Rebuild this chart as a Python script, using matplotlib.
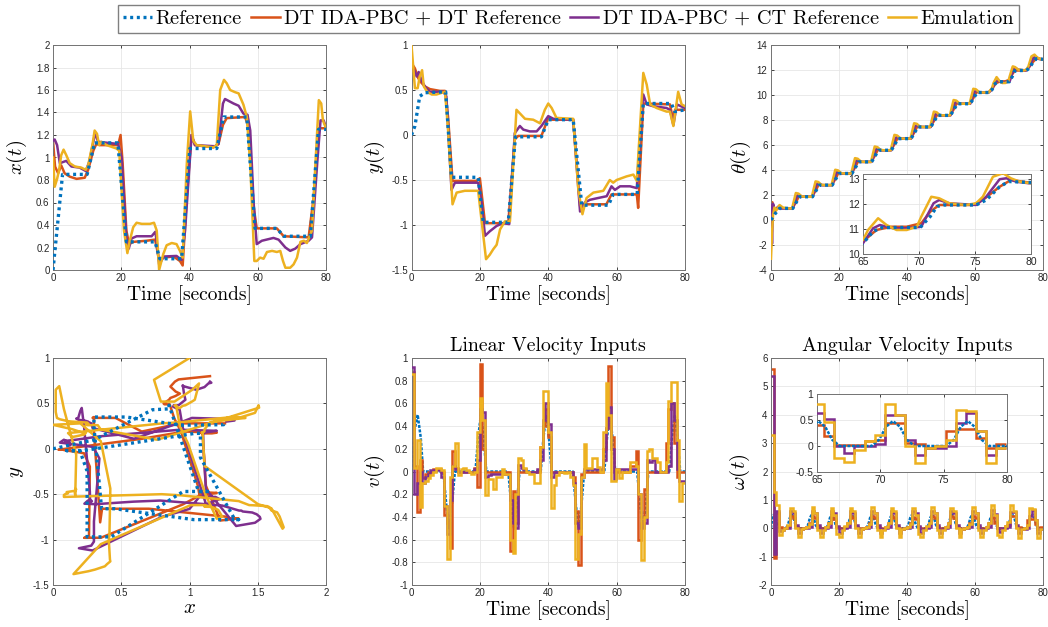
import numpy as np
import matplotlib
matplotlib.use("Agg")
import matplotlib.pyplot as plt
from matplotlib.ticker import FuncFormatter, MultipleLocator

plt.rcParams['mathtext.fontset'] = 'cm'
plt.rcParams['font.family'] = ['Liberation Sans', 'DejaVu Sans']

BLUE, ORANGE, PURPLE, YELLOW = '#0072BD', '#D95319', '#7E2F8E', '#EDB120'
SERIF = 'cmr10'

LEGEND_LABELS = ['Reference', 'DT IDA-PBC + DT Reference',
                 'DT IDA-PBC + CT Reference', 'Emulation']

# ---------------- x(t) ----------------
X_REF_T = [0, 2.8, 10, 12.2, 19, 21.5, 29.9, 31.3, 37.7, 40.1, 48, 50, 56.8, 59.2, 65.6, 67.6, 75.4, 77.8, 80]
X_REF = [0, 0.85, 0.85, 1.13, 1.13, 0.25, 0.25, 0.1, 0.1, 1.08, 1.08, 1.36, 1.36, 0.37, 0.37, 0.3, 0.3, 1.25, 1.25]

X_ORANGE_T = [0, 0.6, 1.5, 2.4, 3.4, 4.9, 6.9, 9.3, 10.3, 11.8, 12.7, 13.7, 19.1, 19.8, 20.4, 21.5, 22.3, 23.5,
              27.4, 29.9, 30.4, 31.1, 32.3, 35.3, 37.2, 38.0, 39.2, 40.6, 41.6, 47.0, 48.5, 49.8, 50.9, 56.3,
              57.3, 58.8, 59.7, 65.6, 67.6, 74.9, 76.4, 77.9, 80]
X_ORANGE = [1.15, 0.92, 0.86, 0.93, 0.86, 0.83, 0.81, 0.82, 0.89, 1.06, 1.12, 1.11, 1.11, 1.20, 0.95, 0.35, 0.23,
            0.25, 0.26, 0.27, 0.20, 0.08, 0.11, 0.12, 0.08, 0.04, 0.65, 1.20, 1.11, 1.09, 1.12, 1.29, 1.35, 1.36,
            1.27, 0.56, 0.37, 0.37, 0.30, 0.29, 0.65, 1.26, 1.26]

X_PURPLE_T = [0, 0.5, 1.2, 2.0, 3.9, 5.4, 7.8, 9.6, 10.6, 11.9, 12.4, 13.2, 19.1, 20.1, 21.5, 22.2, 23.0, 24.5,
              28.9, 30.0, 30.6, 31.1, 32.5, 36.2, 37.7, 38.7, 40.6, 41.6, 47.5, 48.5, 49.8, 50.4, 52.9, 54.4,
              55.8, 57.0, 57.8, 58.8, 59.7, 61.2, 64.6, 66.1, 68.1, 69.5, 71.0, 72.5, 74.9, 75.9, 77.4, 78.4,
              79.3, 80]
X_PURPLE = [1.15, 1.16, 1.11, 0.95, 0.97, 0.92, 0.91, 0.88, 0.96, 1.15, 1.22, 1.14, 1.12, 1.00, 0.29, 0.19, 0.28,
            0.30, 0.30, 0.34, 0.20, 0.05, 0.12, 0.125, 0.09, 0.35, 1.20, 1.11, 1.10, 1.12, 1.48, 1.52, 1.48,
            1.46, 1.39, 1.38, 1.24, 0.59, 0.23, 0.26, 0.285, 0.27, 0.20, 0.17, 0.19, 0.23, 0.26, 0.29, 0.94,
            1.33, 1.33, 1.27]

X_YELLOW_T = [0, 0.5, 1.2, 1.8, 2.4, 3.1, 3.9, 4.9, 6.4, 8.3, 9.6, 10.3, 11.6, 12.2, 12.9, 13.5, 14.2, 15.7,
              18.6, 19.4, 20.8, 21.8, 22.5, 23.5, 24.5, 26.0, 28.4, 29.6, 30.4, 31.1, 32.3, 33.3, 34.8, 36.2,
              37.2, 38.0, 39.2, 40.2, 41.1, 42.1, 47.0, 48.0, 49.0, 50.1, 50.9, 51.9, 53.4, 54.4, 55.8, 56.8,
              57.8, 59.0, 59.7, 60.7, 61.7, 62.7, 64.2, 65.6, 66.6, 67.4, 68.1, 69.5, 70.5, 71.5, 72.5, 73.5,
              74.4, 75.9, 76.9, 77.9, 78.6, 79.1, 80]
X_YELLOW = [1.0, 0.74, 0.81, 0.89, 1.02, 1.07, 1.02, 0.95, 0.92, 0.91, 0.89, 0.93, 1.12, 1.24, 1.21, 1.11, 1.14,
            1.11, 1.08, 1.06, 0.35, 0.15, 0.26, 0.38, 0.42, 0.41, 0.41, 0.42, 0.35, 0.0, 0.14, 0.22, 0.24, 0.23,
            0.17, 0.11, 0.94, 1.41, 1.15, 1.11, 1.09, 1.11, 1.6, 1.69, 1.66, 1.6, 1.58, 1.57, 1.47, 1.36, 0.94,
            0.08, 0.08, 0.11, 0.1, 0.16, 0.17, 0.16, 0.17, 0.08, 0.02, 0.02, 0.05, 0.11, 0.25, 0.26, 0.24, 0.35,
            0.94, 1.51, 1.48, 1.33, 1.26]

# ---------------- y(t) ----------------
Y_REF_T = [0, 1.0, 2.4, 4.0, 10.0, 11.7, 19.5, 21.0, 28.3, 30.4, 38.0, 40.0, 47.3, 49.8, 57.6, 59.0, 66.0, 67.8,
           76.0, 77.0, 80]
Y_REF = [0, 0.1, 0.43, 0.47, 0.48, -0.47, -0.47, -0.97, -0.97, -0.02, -0.02, 0.17, 0.17, -0.78, -0.78, -0.66,
         -0.66, 0.35, 0.35, 0.26, 0.28]

Y_ORANGE_T = [0, 1, 2, 2.9, 3.9, 5.4, 8.3, 9.8, 10.7, 12, 19, 20, 21.5, 28.3, 30.2, 31.2, 38, 40, 41, 47.3, 49.3,
              50.2, 57, 58.5, 65.9, 66.3, 67.8, 75.6, 76.4, 77.1, 80]
Y_ORANGE = [0.8, 0.74, 0.63, 0.58, 0.54, 0.51, 0.49, 0.49, 0.2, -0.51, -0.51, -0.48, -0.98, -0.98, -0.05, -0.01,
            -0.01, 0.19, 0.17, 0.17, -0.79, -0.77, -0.77, -0.66, -0.66, -0.81, 0.35, 0.34, 0.19, 0.28, 0.28]

Y_PURPLE_T = [0, 0.8, 1.5, 2.1, 2.9, 3.9, 5.4, 9.3, 10.2, 11.7, 12.7, 19.5, 20.5, 21.5, 22.9, 24.9, 26.8, 28.6,
              30.2, 31.7, 32.7, 34.6, 36.6, 38, 40, 41.5, 47.3, 49.3, 50.7, 52.2, 54.6, 57.1, 58.5, 59.5, 61,
              63.9, 65.9, 67.3, 67.8, 68.8, 70.7, 74.6, 75.6, 76.6, 77.6, 80]
Y_PURPLE = [0.74, 0.72, 0.65, 0.70, 0.61, 0.54, 0.48, 0.48, 0.43, -0.61, -0.53, -0.53, -0.75, -1.12, -1.07,
            -1.01, -0.98, -0.99, 0.02, 0.10, 0.06, 0.04, 0.04, 0.10, 0.21, 0.18, 0.17, -0.85, -0.75, -0.72,
            -0.70, -0.68, -0.57, -0.61, -0.57, -0.57, -0.59, 0.24, 0.45, 0.34, 0.32, 0.30, 0.28, 0.11, 0.34, 0.30]

Y_YELLOW_T = [0, 0.5, 1, 1.8, 2.4, 3.1, 3.6, 4.6, 5.9, 7.3, 9.8, 10.7, 12, 13.2, 15.6, 19.5, 20.8, 21.8, 22.9,
              23.9, 24.9, 25.9, 27.3, 28.8, 30.7, 31.7, 33.2, 35.6, 37.6, 39, 40, 41, 42.4, 47.3, 48.8, 50, 51.2,
              53.2, 56.1, 58, 59, 60, 62.9, 64.9, 65.9, 66.8, 67.8, 68.8, 69.8, 71.7, 74.6, 75.6, 76.6, 78, 79, 80]
Y_YELLOW = [1.0, 0.76, 0.52, 0.52, 0.65, 0.72, 0.54, 0.48, 0.45, 0.45, 0.48, 0.06, -0.77, -0.64, -0.62, -0.62,
            -1.05, -1.38, -1.33, -1.27, -1.22, -1.05, -0.96, -0.96, 0.28, 0.24, 0.18, 0.17, 0.13, 0.28, 0.35,
            0.30, 0.19, 0.18, -0.61, -0.88, -0.70, -0.64, -0.62, -0.50, -0.53, -0.50, -0.46, -0.44, -0.51, 0.06,
            0.69, 0.56, 0.34, 0.30, 0.26, 0.26, 0.10, 0.48, 0.34, 0.32]

# ---------------- theta(t) ----------------
TH_REF_T = [0, 1.2, 2.5, 6.4, 7.4, 8.4, 12.2, 13.2, 14.2, 18.0, 19.0, 20.0, 23.8, 24.8, 25.8, 29.6, 30.6, 31.6,
            35.4, 36.4, 37.4, 41.2, 42.2, 43.2, 47.0, 48.0, 49.0, 52.8, 53.8, 54.8, 58.6, 59.6, 60.6, 64.2, 65.0,
            65.9, 66.7, 70.1, 71.0, 71.6, 72.2, 75.1, 76.0, 77.2, 78.0, 80]
TH_REF = [0, 0.5, 0.93, 0.93, 1.40, 1.86, 1.86, 2.33, 2.79, 2.79, 3.26, 3.72, 3.72, 4.19, 4.65, 4.65, 5.12, 5.58,
          5.58, 6.05, 6.51, 6.51, 6.98, 7.44, 7.44, 7.91, 8.37, 8.37, 8.84, 9.30, 9.30, 9.75, 10.20, 10.20, 10.43,
          10.90, 11.06, 11.06, 11.50, 11.90, 11.96, 11.96, 12.16, 12.69, 12.90, 12.86]

TH_ORANGE_T = [0, 0.4, 0.9, 1.5, 2.5, 6.2, 7.3, 8.2, 9.4, 12.0, 13.1, 14.0, 15.2, 17.8, 18.9, 19.8, 21.0, 23.6,
               24.7, 25.6, 26.8, 29.4, 30.5, 31.4, 32.6, 35.2, 36.3, 37.2, 38.4, 41.0, 42.1, 43.0, 44.2, 46.8,
               47.9, 48.8, 50.0, 52.6, 53.7, 54.6, 55.8, 58.4, 59.5, 60.4, 61.6, 64.0, 65.0, 66.2, 67.5, 68.9,
               70.2, 71.0, 71.8, 73.0, 74.8, 75.7, 77.2, 78.2, 79.8, 80]
TH_ORANGE = [1.30, 1.42, 0.60, 0.90, 0.93, 0.93, 1.40, 1.89, 1.86, 1.86, 2.33, 2.82, 2.79, 2.79, 3.26, 3.75, 3.72,
             3.72, 4.19, 4.68, 4.65, 4.65, 5.12, 5.61, 5.58, 5.58, 6.05, 6.54, 6.51, 6.51, 6.98, 7.47, 7.44, 7.44,
             7.91, 8.40, 8.37, 8.37, 8.84, 9.33, 9.30, 9.30, 9.75, 10.23, 10.20, 10.20, 10.50, 10.96, 11.09,
             11.09, 11.23, 11.69, 11.96, 11.96, 11.96, 12.16, 12.69, 12.96, 12.86, 12.86]

TH_PURPLE_T = [0, 0.3, 0.6, 1.2, 2.0, 3.0, 6.4, 7.6, 8.1, 9.2, 12.2, 13.4, 13.9, 15.0, 18.0, 19.2, 19.7, 20.8,
               23.8, 25.0, 25.5, 26.6, 29.6, 30.8, 31.3, 32.4, 35.4, 36.6, 37.1, 38.2, 41.2, 42.4, 42.9, 44.0,
               47.0, 48.2, 48.7, 49.8, 52.8, 54.0, 54.5, 55.6, 58.6, 59.8, 60.3, 61.4, 64.0, 65.0, 65.9, 66.5,
               67.7, 68.9, 70.2, 71.3, 71.8, 72.7, 75.1, 76.0, 77.2, 77.8, 78.7, 79.8, 80]
TH_PURPLE = [1.20, -1.90, 1.30, 0.70, 1.05, 0.93, 0.93, 1.91, 2.01, 1.86, 1.86, 2.84, 2.94, 2.79, 2.79, 3.77,
             3.87, 3.72, 3.72, 4.70, 4.80, 4.65, 4.65, 5.63, 5.73, 5.58, 5.58, 6.56, 6.66, 6.51, 6.51, 7.49, 7.59,
             7.44, 7.44, 8.42, 8.52, 8.37, 8.37, 9.35, 9.45, 9.30, 9.30, 10.25, 10.35, 10.20, 10.20, 10.43, 11.03,
             11.16, 11.03, 11.03, 11.09, 12.03, 12.16, 12.03, 11.96, 12.29, 12.99, 13.03, 12.89, 12.83, 12.83]

TH_YELLOW_T = [0, 0.3, 0.6, 1.0, 1.5, 2.5, 3.5, 5.0, 6.2, 7.3, 8.1, 9.0, 10.0, 12.0, 13.1, 13.9, 14.8, 15.8,
               17.8, 18.9, 19.7, 20.6, 21.6, 23.6, 24.7, 25.5, 26.4, 27.4, 29.4, 30.5, 31.3, 32.2, 33.2, 35.2,
               36.3, 37.1, 38.0, 39.0, 41.0, 42.1, 42.9, 43.8, 44.8, 46.8, 47.9, 48.7, 49.6, 50.6, 52.6, 53.7,
               54.5, 55.4, 56.4, 58.4, 59.5, 60.3, 61.2, 62.2, 64.0, 65.0, 65.45, 66.35, 67.1, 68.0, 68.9, 69.8,
               70.2, 71.1, 71.8, 72.7, 74.2, 75.1, 75.7, 76.6, 77.5, 78.2, 79.0, 80]
TH_YELLOW = [-3.1, -1.0, 0.4, 1.0, 0.75, 1.2, 1.0, 0.93, 0.93, 2.16, 2.11, 1.89, 1.86, 1.86, 3.09, 3.04, 2.82,
             2.79, 2.79, 4.02, 3.97, 3.75, 3.72, 3.72, 4.95, 4.90, 4.68, 4.65, 4.65, 5.88, 5.83, 5.61, 5.58, 5.58,
             6.81, 6.76, 6.54, 6.51, 6.51, 7.74, 7.69, 7.47, 7.44, 7.44, 8.67, 8.62, 8.40, 8.37, 8.37, 9.60, 9.55,
             9.33, 9.30, 9.30, 10.50, 10.45, 10.23, 10.20, 10.20, 10.56, 10.96, 11.43, 11.16, 10.96, 10.96,
             11.09, 11.49, 12.29, 12.23, 12.03, 11.96, 12.03, 12.29, 13.09, 13.23, 13.03, 12.89, 12.83]

# ---------------- inputs: sample-and-hold values (sample time 0.8 s) ----------------
SAMPLE_T = 0.8
SAMPLE_T0 = -0.05

V_REF_T = [0, 0.8, 1.8, 2.7, 3.4, 9.3, 10.2, 11.0, 11.8, 12.7, 18.7, 19.5, 20.3, 21.1, 21.9, 28.3, 29.2, 30.0,
           30.8, 31.6, 37.8, 38.6, 39.4, 40.2, 41.0, 47.2, 48.1, 48.9, 49.7, 50.5, 56.4, 57.2, 58.0, 58.8, 59.6,
           66.0, 66.9, 67.7, 68.5, 69.3, 75.4, 76.2, 77.0, 77.8, 78.6, 80]
V_REF = [0, 0.35, 0.5, 0.3, 0, 0, -0.3, -0.5, -0.3, 0, 0, 0.3, 0.5, 0.3, 0, 0, -0.3, -0.5, -0.3, 0, 0, 0.3, 0.5,
         0.3, 0, 0, -0.3, -0.5, -0.3, 0, 0, 0.3, 0.5, 0.3, 0, 0, -0.3, -0.5, -0.3, 0, 0, 0.3, 0.5, 0.3, 0, 0]

V_ORANGE = [0.88, 0.05, -0.36, 0.10, -0.06, -0.02, 0.00, 0.00, 0.02, 0.02,
            0.02, 0.00, -0.38, -0.45, -0.67, 0.18, 0.03, 0.00, 0.00, 0.00,
            0.00, 0.00, 0.00, 0.03, -0.14, 0.95, 0.20, 0.00, 0.00, 0.00,
            0.00, 0.00, 0.00, 0.00, 0.00, 0.00, -0.70, -0.17, -0.45, 0.00,
            0.00, 0.00, 0.00, 0.00, 0.00, 0.00, 0.00, 0.22, 0.40, 0.55,
            0.30, 0.00, 0.00, 0.00, 0.00, 0.00, 0.00, 0.00, 0.00, -0.05,
            -0.35, -0.82, -0.02, 0.00, 0.00, 0.00, 0.00, 0.00, 0.00, 0.00,
            0.20, 0.38, 0.93, 0.30, 0.00, 0.00, 0.00, 0.00, 0.00, 0.00,
            0.05, 0.05, 0.18, -0.60, -0.45, -0.15, 0.00, 0.00, 0.00, 0.00,
            0.00, 0.00, 0.00, 0.25, 0.55, 0.60, 0.25, -0.05, 0.00, 0.00]
V_PURPLE = [0.92, -0.20, -0.10, 0.00, -0.10, -0.05, -0.02, 0.01, 0.01, 0.01,
            0.01, -0.05, -0.30, -0.55, -0.25, 0.05, 0.02, 0.00, 0.00, 0.00,
            0.00, 0.00, 0.00, 0.02, 0.10, 0.55, 0.52, -0.05, -0.03, -0.02,
            -0.02, -0.02, -0.02, -0.02, -0.02, -0.02, -0.25, -0.45, -0.50, 0.06,
            0.03, 0.02, 0.00, 0.00, 0.00, 0.00, 0.02, 0.10, 0.45, 0.60,
            0.42, -0.05, 0.00, 0.00, 0.00, 0.00, 0.00, 0.00, 0.00, -0.10,
            -0.45, -0.50, -0.05, 0.02, 0.02, 0.02, 0.02, 0.02, 0.02, 0.02,
            0.10, 0.38, 0.57, 0.20, -0.07, 0.02, 0.02, 0.02, 0.02, 0.02,
            0.02, 0.02, 0.02, -0.20, -0.50, -0.45, 0.10, 0.08, 0.10, 0.00,
            0.00, 0.00, 0.00, 0.00, 0.05, 0.60, 0.45, 0.02, -0.08, -0.08]
V_YELLOW = [0.86, 0.03, 0.28, -0.31, -0.10, -0.08, -0.06, -0.03, 0.00, 0.03,
            0.03, 0.01, -0.30, -0.77, -0.05, 0.05, 0.25, -0.03, 0.02, 0.03,
            0.01, 0.00, -0.02, 0.00, 0.35, 0.65, 0.45, -0.21, -0.07, -0.07,
            -0.15, -0.05, -0.05, 0.02, -0.02, -0.02, -0.60, -0.72, -0.20, 0.12,
            0.10, 0.03, 0.00, -0.02, -0.02, -0.10, -0.10, 0.22, 0.71, 0.71,
            0.35, -0.32, -0.12, -0.03, 0.00, 0.00, -0.01, 0.00, -0.05, -0.12,
            -0.77, -0.55, -0.05, 0.24, 0.03, 0.03, 0.12, 0.12, 0.04, 0.00,
            0.35, 0.78, 0.50, -0.08, -0.08, 0.02, -0.06, 0.00, 0.00, 0.00,
            0.08, 0.08, 0.05, -0.20, -0.78, -0.40, 0.18, 0.20, 0.12, 0.12,
            0.08, 0.00, 0.00, 0.08, 0.62, 0.79, 0.79, 0.28, -0.26, -0.10]

W_REF_T = [0, 0.3, 0.8, 1.3, 1.9, 2.5,
           4.4, 5.0, 5.55, 6.1, 6.65, 7.2, 7.8,
           10.3, 10.9, 11.45, 12.0, 12.55, 13.1, 13.7,
           16.2, 16.8, 17.35, 17.9, 18.45, 19.0, 19.6,
           22.1, 22.7, 23.25, 23.8, 24.35, 24.9, 25.5,
           28.0, 28.6, 29.15, 29.7, 30.25, 30.8, 31.4,
           33.9, 34.5, 35.05, 35.6, 36.15, 36.7, 37.3,
           39.8, 40.4, 40.95, 41.5, 42.05, 42.6, 43.2,
           45.7, 46.3, 46.85, 47.4, 47.95, 48.5, 49.1,
           51.6, 52.2, 52.75, 53.3, 53.85, 54.4, 55.0,
           57.5, 58.1, 58.65, 59.2, 59.75, 60.3, 60.9,
           63.4, 64.0, 64.55, 65.1, 65.65, 66.2, 66.8,
           69.3, 69.9, 70.45, 71.0, 71.55, 72.1, 72.7,
           75.2, 75.8, 76.35, 76.9, 77.45, 78.0, 78.6, 80]
W_REF = [0, 0.3, 0.48, 0.37, 0.12, 0,
         0, 0.12, 0.37, 0.48, 0.37, 0.12, 0,
         0, 0.12, 0.37, 0.48, 0.37, 0.12, 0,
         0, 0.12, 0.37, 0.48, 0.37, 0.12, 0,
         0, 0.12, 0.37, 0.48, 0.37, 0.12, 0,
         0, 0.12, 0.37, 0.48, 0.37, 0.12, 0,
         0, 0.12, 0.37, 0.48, 0.37, 0.12, 0,
         0, 0.12, 0.37, 0.48, 0.37, 0.12, 0,
         0, 0.12, 0.37, 0.48, 0.37, 0.12, 0,
         0, 0.12, 0.37, 0.48, 0.37, 0.12, 0,
         0, 0.12, 0.37, 0.48, 0.37, 0.12, 0,
         0, 0.12, 0.37, 0.48, 0.37, 0.12, 0,
         0, 0.12, 0.37, 0.48, 0.37, 0.12, 0,
         0, 0.12, 0.37, 0.48, 0.37, 0.12, 0, 0]

W_ORANGE = [5.62, -1.05, 0.55, 0.05, 0.00, 0.00, 0.08,
            0.42, 0.35, 0.05, 0.01, -0.02, 0.00, 0.05, 0.20,
            0.42, 0.35, 0.05, 0.01, 0.00, 0.06, 0.20,
            0.40, 0.33, 0.05, 0.01, 0.00, 0.06, 0.20,
            0.42, 0.35, 0.05, 0.01, -0.02, 0.00, 0.05, 0.20,
            0.42, 0.35, 0.05, 0.01, 0.00, 0.06, 0.20,
            0.42, 0.35, 0.05, 0.01, -0.02, 0.00, 0.05, 0.20,
            0.40, 0.33, 0.05, 0.01, 0.00, 0.06, 0.20,
            0.42, 0.35, 0.05, 0.01, 0.00, 0.06, 0.20,
            0.42, 0.35, 0.05, 0.01, -0.02, 0.00, 0.05, 0.20,
            0.42, 0.35, 0.05, 0.01, 0.00, 0.06, 0.20,
            0.40, 0.19, 0.01, 0.01, 0.01, 0.09, 0.12,
            0.44, 0.44, 0.06, 0.03, -0.03, 0.00, 0.28,
            0.33, 0.33, 0.15, -0.04, 0.03]
W_PURPLE = [5.35, -0.90, 0.60, -0.10, -0.05, 0.00, 0.02,
            0.60, 0.55, 0.10, -0.15, -0.03, 0.00, 0.00, 0.03,
            0.60, 0.55, 0.10, -0.15, -0.03, 0.00, 0.03,
            0.62, 0.52, 0.08, -0.15, -0.03, 0.00, 0.03,
            0.60, 0.55, 0.10, -0.15, -0.03, 0.00, 0.00, 0.03,
            0.60, 0.55, 0.10, -0.15, -0.03, 0.00, 0.03,
            0.60, 0.55, 0.10, -0.15, -0.03, 0.00, 0.00, 0.03,
            0.62, 0.52, 0.08, -0.15, -0.03, 0.00, 0.03,
            0.60, 0.55, 0.10, -0.15, -0.03, 0.00, 0.03,
            0.60, 0.55, 0.10, -0.15, -0.03, 0.00, 0.00, 0.03,
            0.60, 0.55, 0.10, -0.15, -0.03, 0.00, 0.03,
            0.63, 0.51, 0.00, -0.13, 0.00, 0.00, 0.03,
            0.59, 0.59, 0.12, -0.17, -0.04, -0.03, 0.00,
            0.44, 0.63, 0.28, -0.17, -0.04]
W_YELLOW = [3.30, 1.26, 0.82, -0.25, -0.05, 0.00, 0.10,
            0.72, 0.62, 0.00, -0.30, -0.04, 0.00, 0.05, 0.15,
            0.75, 0.55, -0.05, -0.30, -0.05, 0.05, 0.18,
            0.72, 0.45, -0.20, -0.30, -0.06, 0.08, 0.20,
            0.72, 0.62, 0.00, -0.30, -0.04, 0.00, 0.05, 0.15,
            0.75, 0.55, -0.05, -0.30, -0.05, 0.05, 0.18,
            0.72, 0.62, 0.00, -0.30, -0.04, 0.00, 0.05, 0.15,
            0.72, 0.45, -0.20, -0.30, -0.06, 0.08, 0.20,
            0.75, 0.55, -0.05, -0.30, -0.05, 0.05, 0.18,
            0.72, 0.62, 0.00, -0.30, -0.04, 0.00, 0.05, 0.15,
            0.75, 0.55, -0.05, -0.30, -0.05, 0.05, 0.20,
            0.81, 0.47, -0.23, -0.30, -0.07, 0.09, 0.22,
            0.81, 0.60, 0.00, -0.33, -0.04, 0.00, 0.12,
            0.70, 0.67, 0.28, -0.33, -0.04]


def px_rect(left, top, right, bottom, W=1048, H=627):
    return [left / W, 1 - bottom / H, (right - left) / W, (bottom - top) / H]


def num_fmt(v, _):
    return '%g' % (round(v, 6) + 0.0)


def style(ax, xlim, ylim, xstep, ystep, size=7):
    ax.set_xlim(*xlim)
    ax.set_ylim(*ylim)
    ax.xaxis.set_major_locator(MultipleLocator(xstep))
    ax.yaxis.set_major_locator(MultipleLocator(ystep))
    ax.xaxis.set_major_formatter(FuncFormatter(num_fmt))
    ax.yaxis.set_major_formatter(FuncFormatter(num_fmt))
    ax.tick_params(direction='in', length=2.5, width=0.6, top=True, right=True,
                   labelsize=size, colors='0.15', pad=2.5)
    ax.grid(True, color='0.9', lw=0.6)
    ax.set_axisbelow(True)
    for s in ax.spines.values():
        s.set_color('0.45')
        s.set_linewidth(0.7)


LW = 1.8
REF_STYLE = dict(color=BLUE, lw=2.4, ls=(0, (0.9, 1.1)), zorder=5)
REF_INPUT_STYLE = dict(color=BLUE, lw=1.8, ls=(0, (1.2, 0.6)), zorder=1)


def time_series(ax, ref, orange, purple, yellow):
    ax.plot(*orange, color=ORANGE, lw=LW, zorder=2)
    ax.plot(*purple, color=PURPLE, lw=LW, zorder=3)
    ax.plot(*yellow, color=YELLOW, lw=LW, zorder=4)
    ax.plot(*ref, **REF_STYLE)


def stair_series(ax, ref, orange, purple, yellow, ref_z=1):
    edges = SAMPLE_T0 + SAMPLE_T * np.arange(len(orange) + 1)
    ax.plot(*ref, **dict(REF_INPUT_STYLE, zorder=ref_z))
    ax.stairs(orange, edges, color=ORANGE, lw=LW, baseline=None, zorder=2)
    ax.stairs(purple, edges, color=PURPLE, lw=LW, baseline=None, zorder=3)
    ax.stairs(yellow, edges, color=YELLOW, lw=LW, baseline=None, zorder=4)


def xlabel_time(ax):
    ax.set_xlabel('Time [seconds]', family=SERIF, fontsize=14, labelpad=1)


fig = plt.figure(figsize=(10.48, 6.27), dpi=100)

# x(t)
ax1 = fig.add_axes(px_rect(53, 45, 326, 270))
time_series(ax1, (X_REF_T, X_REF), (X_ORANGE_T, X_ORANGE), (X_PURPLE_T, X_PURPLE), (X_YELLOW_T, X_YELLOW))
style(ax1, (0, 80), (0, 2), 20, 0.2)
xlabel_time(ax1)
ax1.set_ylabel(r'$x(t)$', fontsize=15, labelpad=5)

# y(t)
ax2 = fig.add_axes(px_rect(411.5, 45, 685, 270))
time_series(ax2, (Y_REF_T, Y_REF), (Y_ORANGE_T, Y_ORANGE), (Y_PURPLE_T, Y_PURPLE), (Y_YELLOW_T, Y_YELLOW))
style(ax2, (0, 80), (-1.5, 1), 20, 0.5)
xlabel_time(ax2)
ax2.set_ylabel(r'$y(t)$', fontsize=15, labelpad=3)

# theta(t)
ax3 = fig.add_axes(px_rect(771, 45, 1043, 270))
time_series(ax3, (TH_REF_T, TH_REF), (TH_ORANGE_T, TH_ORANGE), (TH_PURPLE_T, TH_PURPLE),
            (TH_YELLOW_T, TH_YELLOW))
style(ax3, (0, 80), (-4, 14), 20, 2)
xlabel_time(ax3)
ax3.set_ylabel(r'$\theta(t)$', fontsize=15, labelpad=3)

ax3i = fig.add_axes(px_rect(863, 174, 1031, 254))
ax3i.set_facecolor('white')
time_series(ax3i, (TH_REF_T, TH_REF), (TH_ORANGE_T, TH_ORANGE), (TH_PURPLE_T, TH_PURPLE),
            (TH_YELLOW_T, TH_YELLOW))
style(ax3i, (65, 80), (10, 13.2), 5, 1, size=7.5)
ax3i.set_zorder(10)

# x-y plane
ax4 = fig.add_axes(px_rect(53, 358, 326, 585))
for (tx, xv), (ty, yv), col, z in [((X_ORANGE_T, X_ORANGE), (Y_ORANGE_T, Y_ORANGE), ORANGE, 2),
                                   ((X_PURPLE_T, X_PURPLE), (Y_PURPLE_T, Y_PURPLE), PURPLE, 3),
                                   ((X_YELLOW_T, X_YELLOW), (Y_YELLOW_T, Y_YELLOW), YELLOW, 4)]:
    tt = np.union1d(tx, ty)
    ax4.plot(np.interp(tt, tx, xv), np.interp(tt, ty, yv), color=col, lw=LW, zorder=z)
tt = np.union1d(X_REF_T, Y_REF_T)
ax4.plot(np.interp(tt, X_REF_T, X_REF), np.interp(tt, Y_REF_T, Y_REF), **REF_STYLE)
style(ax4, (0, 2), (-1.5, 1), 0.5, 0.5)
ax4.set_xlabel(r'$x$', fontsize=15, labelpad=0)
ax4.set_ylabel(r'$y$', fontsize=15, labelpad=5)

# linear velocity
ax5 = fig.add_axes(px_rect(411.5, 358, 685, 585))
stair_series(ax5, (V_REF_T, V_REF), V_ORANGE, V_PURPLE, V_YELLOW)
style(ax5, (0, 80), (-1, 1), 20, 0.2)
xlabel_time(ax5)
ax5.set_ylabel(r'$v(t)$', fontsize=15, labelpad=3)
ax5.set_title('Linear Velocity Inputs', family=SERIF, fontsize=14.3, pad=5)

# angular velocity
ax6 = fig.add_axes(px_rect(771, 358, 1043, 585))
stair_series(ax6, (W_REF_T, W_REF), W_ORANGE, W_PURPLE, W_YELLOW)
style(ax6, (0, 80), (-2, 6), 20, 1)
xlabel_time(ax6)
ax6.set_ylabel(r'$\omega(t)$', fontsize=15, labelpad=5)
ax6.set_title('Angular Velocity Inputs', family=SERIF, fontsize=14.3, pad=5)

ax6i = fig.add_axes(px_rect(817, 394, 1007, 472))
ax6i.set_facecolor('white')
stair_series(ax6i, (W_REF_T, W_REF), W_ORANGE, W_PURPLE, W_YELLOW, ref_z=3.5)
style(ax6i, (65, 80), (-0.5, 1), 5, 0.5, size=7.5)
ax6i.set_zorder(10)

handles = [ax1.lines[3], ax1.lines[0], ax1.lines[1], ax1.lines[2]]
fig.legend(handles, LEGEND_LABELS, loc='center', bbox_to_anchor=(0.5425, 0.970), ncol=4,
           prop={'family': SERIF, 'size': 14.7}, handlelength=1.4, handletextpad=0.2,
           columnspacing=0.45, borderpad=0.25, fancybox=False, edgecolor='0.5', framealpha=1)

fig.savefig('out.png', dpi=100)
